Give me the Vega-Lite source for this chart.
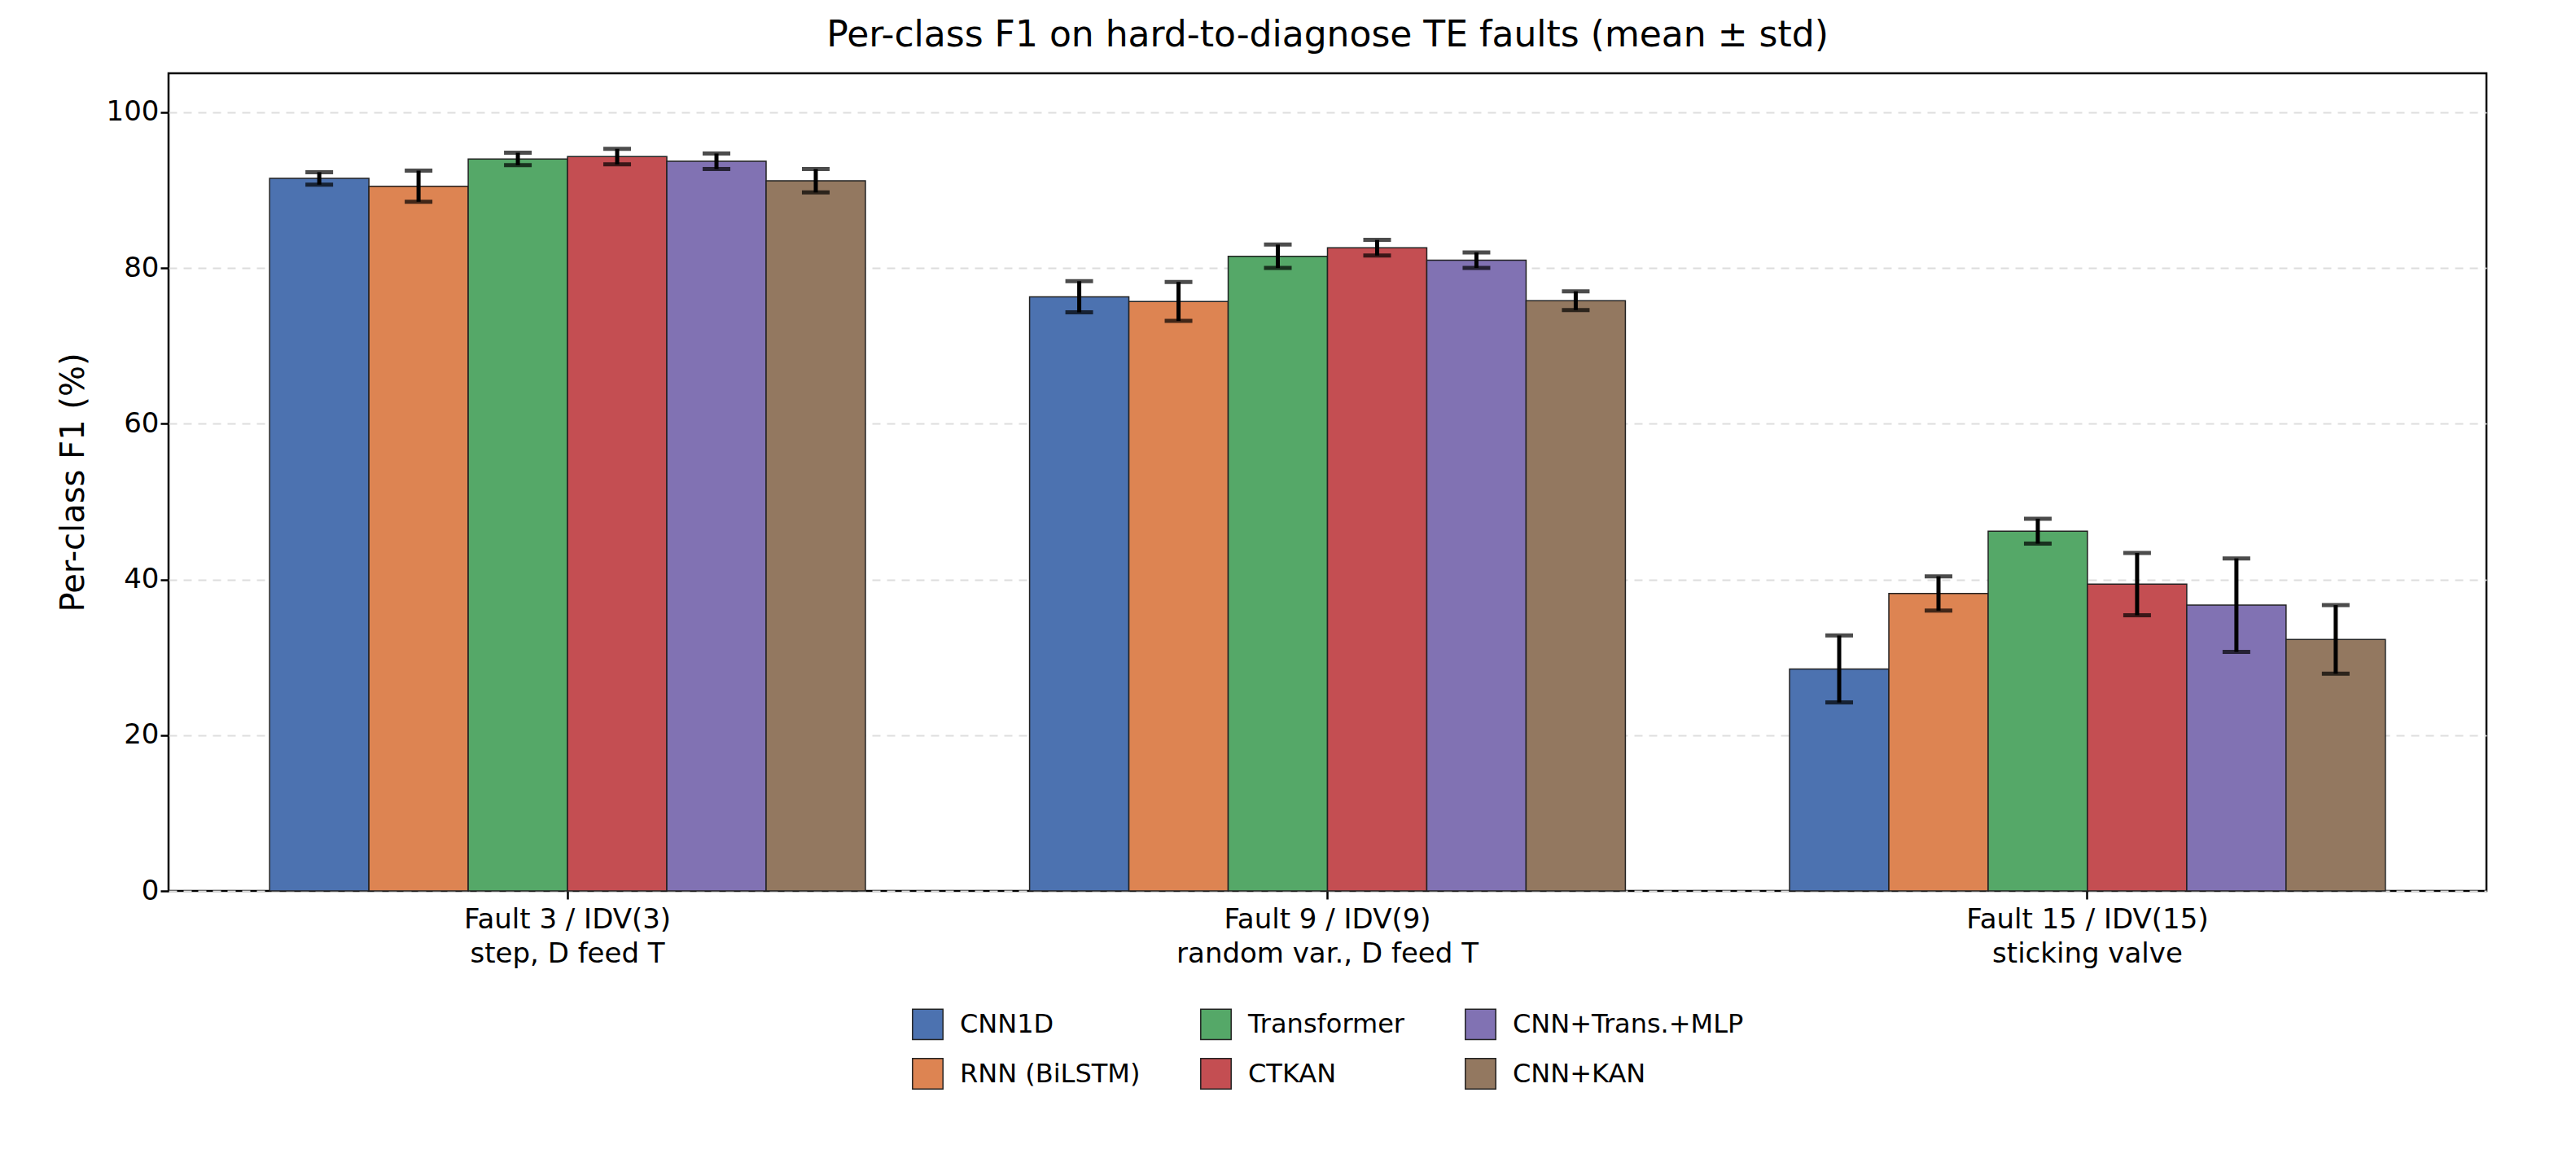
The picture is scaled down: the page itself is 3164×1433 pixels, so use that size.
{
  "$schema": "https://vega.github.io/schema/vega-lite/v6.json",
  "width": 2847,
  "height": 1004,
  "padding": {"left": 70, "top": 22, "right": 20, "bottom": 10},
  "background": "white",
  "title": {"text": "Per-class F1 on hard-to-diagnose TE faults (mean ± std)", "fontSize": 44, "font": "DejaVu Sans", "fontWeight": "normal", "color": "black", "offset": 24},
  "config": {
    "font": "DejaVu Sans",
    "view": {"stroke": "black", "strokeWidth": 2.5},
    "legend": {"layout": {"bottom": {"anchor": "middle"}}},
    "axis": {"labelFont": "DejaVu Sans", "titleFont": "DejaVu Sans", "labelColor": "black", "titleColor": "black", "tickColor": "black", "domain": false, "tickSize": 10, "tickWidth": 2.5}
  },
  "data": {"values": [
    {"fault": "Fault 3 / IDV(3)|step, D feed T", "model": "CNN1D", "mean": 91.5, "std": 0.8},
    {"fault": "Fault 3 / IDV(3)|step, D feed T", "model": "RNN (BiLSTM)", "mean": 90.5, "std": 2.0},
    {"fault": "Fault 3 / IDV(3)|step, D feed T", "model": "Transformer", "mean": 94.0, "std": 0.8},
    {"fault": "Fault 3 / IDV(3)|step, D feed T", "model": "CTKAN", "mean": 94.3, "std": 1.0},
    {"fault": "Fault 3 / IDV(3)|step, D feed T", "model": "CNN+Trans.+MLP", "mean": 93.7, "std": 1.0},
    {"fault": "Fault 3 / IDV(3)|step, D feed T", "model": "CNN+KAN", "mean": 91.2, "std": 1.5},
    {"fault": "Fault 9 / IDV(9)|random var., D feed T", "model": "CNN1D", "mean": 76.3, "std": 2.0},
    {"fault": "Fault 9 / IDV(9)|random var., D feed T", "model": "RNN (BiLSTM)", "mean": 75.7, "std": 2.5},
    {"fault": "Fault 9 / IDV(9)|random var., D feed T", "model": "Transformer", "mean": 81.5, "std": 1.5},
    {"fault": "Fault 9 / IDV(9)|random var., D feed T", "model": "CTKAN", "mean": 82.6, "std": 1.0},
    {"fault": "Fault 9 / IDV(9)|random var., D feed T", "model": "CNN+Trans.+MLP", "mean": 81.0, "std": 1.0},
    {"fault": "Fault 9 / IDV(9)|random var., D feed T", "model": "CNN+KAN", "mean": 75.8, "std": 1.2},
    {"fault": "Fault 15 / IDV(15)|sticking valve", "model": "CNN1D", "mean": 28.5, "std": 4.3},
    {"fault": "Fault 15 / IDV(15)|sticking valve", "model": "RNN (BiLSTM)", "mean": 38.2, "std": 2.2},
    {"fault": "Fault 15 / IDV(15)|sticking valve", "model": "Transformer", "mean": 46.2, "std": 1.6},
    {"fault": "Fault 15 / IDV(15)|sticking valve", "model": "CTKAN", "mean": 39.4, "std": 4.0},
    {"fault": "Fault 15 / IDV(15)|sticking valve", "model": "CNN+Trans.+MLP", "mean": 36.7, "std": 6.0},
    {"fault": "Fault 15 / IDV(15)|sticking valve", "model": "CNN+KAN", "mean": 32.3, "std": 4.4}
  ]},
  "encoding": {
    "x": {"field": "fault", "type": "nominal", "sort": null,
      "scale": {"paddingInner": 0.216, "paddingOuter": 0.133},
      "axis": {"title": null, "labelAngle": 0, "labelFontSize": 34, "labelLimit": 1000, "labelExpr": "split(datum.value, '|')", "labelPadding": 8, "labelLineHeight": 42}},
    "xOffset": {"field": "model", "type": "nominal", "sort": ["CNN1D", "RNN (BiLSTM)", "Transformer", "CTKAN", "CNN+Trans.+MLP", "CNN+KAN"], "scale": {"paddingInner": 0, "paddingOuter": 0}}
  },
  "layer": [
    {
      "mark": {"type": "bar", "stroke": "#222", "strokeWidth": 1.5},
      "encoding": {
        "y": {"field": "mean", "type": "quantitative", "title": "Per-class F1 (%)", "scale": {"domain": [0, 105], "nice": false},
          "axis": {"title": "Per-class F1 (%)", "titleFontSize": 40, "titleFontWeight": "normal", "labelFontSize": 34, "values": [0, 20, 40, 60, 80, 100], "grid": true, "gridDash": [10, 8], "gridColor": "#dddddd", "gridWidth": 2, "titlePadding": 20}},
        "color": {"field": "model", "type": "nominal",
          "scale": {"domain": ["CNN1D", "Transformer", "CNN+Trans.+MLP", "RNN (BiLSTM)", "CTKAN", "CNN+KAN"],
                    "range": ["#4c72b0", "#55a868", "#8172b3", "#dd8452", "#c44e52", "#937860"]},
          "legend": {"title": null, "orient": "bottom", "direction": "horizontal", "columns": 3, "labelFontSize": 32, "symbolType": "square", "symbolSize": 1400, "symbolStrokeColor": "#222", "symbolStrokeWidth": 1.5, "columnPadding": 70, "rowPadding": 16, "labelLimit": 600, "labelOffset": 20, "offset": 50}}
      }
    },
    {
      "mark": {"type": "errorbar", "ticks": {"size": 34, "thickness": 5, "color": "black"}, "rule": {"strokeWidth": 5, "color": "black"}},
      "encoding": {
        "y": {"field": "mean", "type": "quantitative", "title": "Per-class F1 (%)"},
        "yError": {"field": "std"}
      }
    }
  ]
}
